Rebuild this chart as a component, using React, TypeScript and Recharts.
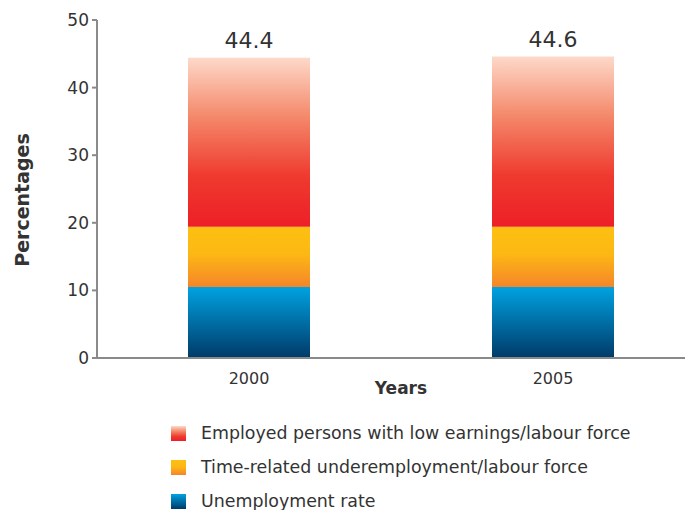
import { BarChart, Bar, XAxis, YAxis, LabelList } from "recharts";

const years = ["2000", "2005"];
const unemployment = [10.5, 10.5];
const timeRelated = [8.9, 8.9];
const lowEarnings = [25.0, 25.2];
const totals = [44.4, 44.6];
const yTicks = [0, 10, 20, 30, 40, 50];

const seriesNames = {
    low: "Employed persons with low earnings/labour force",
    time: "Time-related underemployment/labour force",
    unemp: "Unemployment rate",
};

const data = years.map((y, i) => ({
    year: y,
    unemp: unemployment[i],
    time: timeRelated[i],
    low: lowEarnings[i],
    total: totals[i],
}));

const FONT = "'DejaVu Sans', Verdana, sans-serif";

function LegendBox() {
    const rows = [
        { key: "low", grad: "gLow" },
        { key: "time", grad: "gTime" },
        { key: "unemp", grad: "gUnemp" },
    ] as const;
    return (
        <div style={{ position: "absolute", left: 171, top: 416, fontFamily: FONT }}>
            {rows.map((r) => (
                <div key={r.key} style={{ display: "flex", alignItems: "center", height: 34 }}>
                    <svg width={15} height={15} style={{ marginRight: 15 }}>
                        <rect width={15} height={15} fill={`url(#${r.grad})`} />
                    </svg>
                    <span style={{ fontSize: 17.4, color: "#333" }}>
                        {seriesNames[r.key]}
                    </span>
                </div>
            ))}
        </div>
    );
}

export default function App() {
    return (
        <div
            style={{
                position: "absolute",
                left: 0,
                top: 0,
                width: 685,
                height: 510,
                overflow: "hidden",
                background: "#fff",
                fontFamily: FONT,
            }}
        >
            <BarChart
                width={705}
                height={510}
                data={data}
                margin={{ top: 20, right: 0, left: 0, bottom: 122 }}
            >
                <defs>
                    <linearGradient id="gUnemp" x1="0" y1="0" x2="0" y2="1">
                        <stop offset="0%" stopColor="#00a2e1" />
                        <stop offset="100%" stopColor="#003a68" />
                    </linearGradient>
                    <linearGradient id="gTime" x1="0" y1="0" x2="0" y2="1">
                        <stop offset="0%" stopColor="#fdc010" />
                        <stop offset="45%" stopColor="#fcb814" />
                        <stop offset="100%" stopColor="#f5852a" />
                    </linearGradient>
                    <linearGradient id="gLow" x1="0" y1="0" x2="0" y2="1">
                        <stop offset="0%" stopColor="#fdd9c9" />
                        <stop offset="35%" stopColor="#f4886a" />
                        <stop offset="70%" stopColor="#ef3a2e" />
                        <stop offset="100%" stopColor="#ed1f27" />
                    </linearGradient>
                </defs>
                <XAxis
                    dataKey="year"
                    tickLine={false}
                    axisLine={{ stroke: "#8a8a8a", strokeWidth: 2 }}
                    tick={{ fontSize: 16, fill: "#333", fontFamily: FONT }}
                    tickMargin={9}
                    label={{
                        value: "Years",
                        position: "insideBottom",
                        offset: -6,
                        style: { fontSize: 17, fontWeight: 700, fill: "#333", fontFamily: FONT },
                    }}
                />
                <YAxis
                    width={97}
                    domain={[0, 50]}
                    ticks={yTicks}
                    interval={0}
                    tickSize={5}
                    tickLine={{ stroke: "#8a8a8a", strokeWidth: 2 }}
                    axisLine={{ stroke: "#8a8a8a", strokeWidth: 2 }}
                    tick={{ fontSize: 17, fill: "#333", fontFamily: FONT }}
                    tickMargin={3}
                    label={{
                        value: "Percentages",
                        angle: -90,
                        position: "insideLeft",
                        offset: 22,
                        dy: 11,
                        style: {
                            textAnchor: "middle",
                            fontSize: 19,
                            fontWeight: 700,
                            fill: "#333",
                            fontFamily: FONT,
                        },
                    }}
                />
                <Bar dataKey="unemp" stackId="a" barSize={122} fill="url(#gUnemp)" isAnimationActive={false} />
                <Bar dataKey="time" stackId="a" barSize={122} fill="url(#gTime)" isAnimationActive={false} />
                <Bar dataKey="low" stackId="a" barSize={122} fill="url(#gLow)" isAnimationActive={false}>
                    <LabelList
                        dataKey="total"
                        position="top"
                        offset={10}
                        style={{ fontSize: 22, fill: "#333", fontFamily: FONT }}
                    />
                </Bar>
            </BarChart>
            <LegendBox />
        </div>
    );
}
